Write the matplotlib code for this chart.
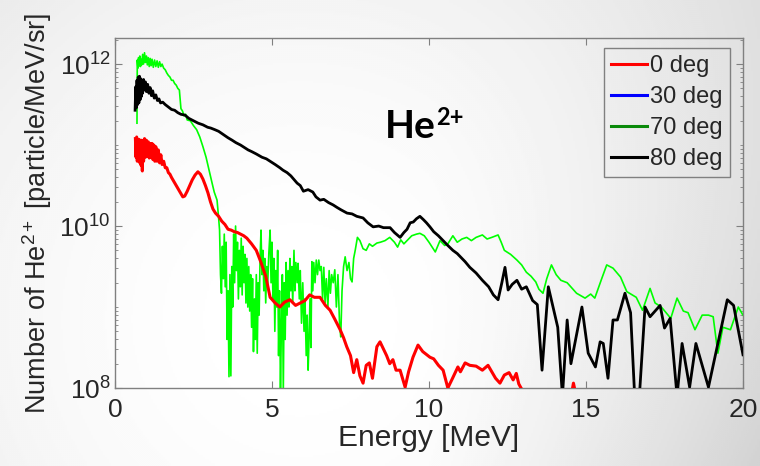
import numpy as np
import matplotlib
matplotlib.use("Agg")
import matplotlib.pyplot as plt
from matplotlib.lines import Line2D
from matplotlib.ticker import LogLocator, NullFormatter

plt.rcParams['font.family'] = ['Liberation Sans', 'DejaVu Sans']
plt.rcParams['mathtext.fontset'] = 'custom'
plt.rcParams['mathtext.rm'] = 'Liberation Sans'
plt.rcParams['mathtext.it'] = 'Liberation Sans:italic'
plt.rcParams['mathtext.bf'] = 'Liberation Sans:bold'

# --- data (energy in MeV, log10 of counts)
e_red = [0.65, 0.67, 0.69, 0.71, 0.73, 0.75, 0.77, 0.79, 0.81, 0.83, 0.85, 0.87, 0.89, 0.91,
         0.94, 0.97, 1.00, 1.03, 1.06, 1.09, 1.12, 1.15, 1.18, 1.21, 1.24, 1.27, 1.30, 1.34,
         1.38, 1.42, 1.46, 1.50, 1.55, 1.60, 1.65, 1.70, 1.75, 1.80, 1.86, 1.92, 1.98, 2.04,
         2.10, 2.16, 2.22, 2.30, 2.38, 2.46, 2.55, 2.64, 2.72, 2.80, 2.88, 2.96, 3.04, 3.12,
         3.20, 3.30, 3.40, 3.50, 3.60, 3.70, 3.80, 3.90, 4.00, 4.10, 4.20, 4.35, 4.50, 4.65,
         4.80, 4.94, 5.10, 5.25, 5.40, 5.57, 5.75, 5.90, 6.05, 6.20, 6.35, 6.53, 6.70, 6.85,
         7.00, 7.17, 7.28, 7.38, 7.50, 7.60, 7.70, 7.80, 7.90, 8.00, 8.10, 8.20, 8.34, 8.44,
         8.55, 8.65, 8.75, 8.85, 8.95, 9.08, 9.24, 9.35, 9.49, 9.65, 9.80, 10.03, 10.15, 10.30,
         10.45, 10.60, 10.75, 10.92, 11.00, 11.15, 11.30, 11.50, 11.70, 11.88, 12.00, 12.12,
         12.26, 12.40, 12.55, 12.68, 12.78, 12.86, 12.96, 13.50, 14.55, 14.60, 14.66, 15.20]
n_red = [11.08, 10.85, 11.10, 10.80, 11.05, 10.82, 11.07, 10.78, 11.04, 10.75, 11.06, 10.68,
         11.05, 10.80, 11.08, 10.85, 11.06, 10.86, 11.04, 10.84, 11.02, 10.85, 11.02, 10.82,
         11.00, 10.80, 10.98, 10.80, 10.94, 10.78, 10.88, 10.76, 10.80, 10.72, 10.72, 10.66,
         10.64, 10.60, 10.56, 10.52, 10.48, 10.44, 10.40, 10.36, 10.37, 10.43, 10.50, 10.57,
         10.63, 10.67, 10.64, 10.58, 10.50, 10.41, 10.30, 10.21, 10.16, 10.12, 10.06, 10.02,
         9.96, 9.95, 9.93, 9.92, 9.90, 9.88, 9.85, 9.78, 9.70, 9.55, 9.38, 9.12, 9.05, 9.00,
         9.06, 9.09, 9.02, 9.05, 9.08, 9.15, 9.12, 9.12, 9.02, 8.96, 8.85, 8.72, 8.62, 8.51,
         8.40, 8.19, 8.35, 8.15, 8.06, 8.28, 8.31, 8.12, 8.51, 8.57, 8.48, 8.40, 8.30, 8.35,
         8.22, 8.22, 8.01, 8.20, 8.38, 8.53, 8.45, 8.38, 8.36, 8.28, 8.22, 8.00, 8.12, 8.26,
         8.20, 8.31, 8.28, 8.27, 8.22, 8.28, 8.20, 8.12, 8.06, 8.16, 8.19, 8.10, 8.18, 8.05,
         7.98, 7.50, 7.95, 8.06, 7.95, 7.50]

e_green = [0.70, 0.71, 0.73, 0.75, 0.77, 0.79, 0.81, 0.83, 0.85, 0.88, 0.91, 0.94, 0.97, 1.00,
           1.03, 1.06, 1.09, 1.12, 1.15, 1.18, 1.22, 1.26, 1.30, 1.34, 1.38, 1.42, 1.46, 1.50,
           1.55, 1.60, 1.65, 1.70, 1.75, 1.80, 1.85, 1.90, 1.95, 2.00, 2.05, 2.10, 2.15, 2.20,
           2.25, 2.30, 2.40, 2.50, 2.60, 2.70, 2.80, 2.90, 3.00, 3.08, 3.16, 3.25,
           3.30, 3.33, 3.36, 3.39, 3.42, 3.45, 3.48, 3.51, 3.54, 3.57, 3.60, 3.63, 3.66, 3.69,
           3.72, 3.75, 3.78, 3.81, 3.84, 3.87, 3.90, 3.93, 3.96, 3.99, 4.02, 4.05, 4.08, 4.11,
           4.14, 4.17, 4.20, 4.23, 4.26, 4.29, 4.32, 4.35, 4.38, 4.41, 4.44, 4.47, 4.50, 4.53,
           4.56, 4.59, 4.62, 4.65, 4.68, 4.71, 4.74, 4.77, 4.80, 4.83, 4.86, 4.90, 4.94, 4.97,
           5.00, 5.03, 5.06, 5.09, 5.12, 5.15, 5.18, 5.21, 5.24, 5.27, 5.30, 5.33, 5.36, 5.39,
           5.42, 5.45, 5.48, 5.51, 5.54, 5.57, 5.60, 5.63, 5.66, 5.70, 5.73, 5.76, 5.80, 5.83,
           5.87, 5.90, 5.94, 5.98, 6.02, 6.05, 6.09, 6.12, 6.15, 6.18, 6.21, 6.24, 6.27, 6.30,
           6.33, 6.37, 6.41, 6.45, 6.49, 6.53, 6.57, 6.61, 6.65, 6.69, 6.73, 6.78, 6.82, 6.86,
           6.90, 6.95, 7.00, 7.05, 7.10, 7.15, 7.19, 7.23, 7.28, 7.33, 7.39, 7.45, 7.50, 7.55,
           7.60, 7.65, 7.72, 7.80,
           7.90, 8.00, 8.10, 8.20, 8.34, 8.45, 8.60, 8.75,
           8.90, 9.00, 9.10, 9.20, 9.30, 9.45, 9.60, 9.71, 9.85, 10.00, 10.20, 10.35, 10.50,
           10.60, 10.76, 10.90, 11.05, 11.20, 11.35, 11.50, 11.70, 11.85, 12.00, 12.20, 12.30,
           12.40, 12.60, 12.80, 12.95, 13.10, 13.25, 13.40, 13.50, 13.63, 13.75, 13.90, 14.05,
           14.20, 14.40, 14.70, 14.97, 15.15, 15.28, 15.50, 15.66, 15.86, 16.10, 16.30, 16.60,
           16.80, 17.04, 17.20, 17.40, 17.70, 17.90, 18.10, 18.25, 18.47, 18.70, 18.90, 19.05,
           19.20, 19.36, 19.60, 19.85, 20.00]
n_green = [11.27, 12.05, 11.95, 12.08, 11.98, 12.10, 11.97, 12.06, 11.99, 12.12, 12.00, 12.14,
           12.02, 12.10, 11.99, 12.08, 11.97, 12.07, 11.98, 12.06, 11.96, 12.05, 11.97, 12.04,
           11.96, 12.03, 11.97, 12.00, 11.95, 11.93, 11.89, 11.86, 11.84, 11.80, 11.80, 11.76,
           11.74, 11.70, 11.68, 11.45, 11.42, 11.36, 11.38, 11.31, 11.30, 11.24, 11.19, 11.10,
           10.98, 10.85, 10.68, 10.55, 10.42, 10.32,
           10.10, 9.95, 9.40, 9.17, 9.75, 9.35, 9.90, 9.25, 9.80, 8.60, 9.20, 8.14, 9.40, 8.15,
           9.50, 9.00, 9.90, 9.30, 10.00, 9.45, 9.80, 9.10, 9.70, 9.25, 9.85, 9.15, 9.75, 9.30,
           9.65, 9.05, 9.60, 9.00, 9.50, 8.95, 9.40, 8.75, 9.35, 8.45, 9.10, 8.60, 9.40, 8.43,
           9.30, 8.90, 9.60, 9.95, 9.40, 9.70, 9.20, 9.60, 9.05, 9.50, 9.25, 9.67, 9.95, 9.30,
           9.80, 9.10, 9.60, 8.70, 9.45, 9.00, 9.70, 8.40, 9.20, 7.95, 8.80, 9.40, 7.95, 9.30,
           8.60, 9.55, 8.90, 9.45, 9.00, 9.60, 9.20, 9.50, 9.05, 9.70, 9.20, 9.55, 9.30, 9.54,
           9.10, 9.45, 8.80, 9.30, 8.70, 9.10, 8.40, 8.90, 8.22, 8.60, 9.10, 8.50, 9.56, 9.20,
           9.55, 9.30, 9.58, 9.40, 9.58, 9.45, 9.50, 9.10, 9.49, 9.05, 9.35, 9.00, 9.45, 9.17,
           9.40, 9.30, 9.46, 9.00, 9.40, 8.80, 8.63, 9.20, 9.50, 9.62, 9.45, 9.55, 9.35, 9.31,
           9.60, 9.70, 9.86, 9.82,
           9.72, 9.70, 9.78, 9.75, 9.79, 9.80, 9.82, 9.86,
           9.80, 9.74, 9.83, 9.78, 9.82, 9.88, 9.90, 9.91, 9.88, 9.80, 9.68, 9.82, 9.76,
           9.78, 9.88, 9.80, 9.84, 9.86, 9.82, 9.86, 9.89, 9.84, 9.86, 9.89, 9.80,
           9.70, 9.65, 9.58, 9.52, 9.43, 9.38, 9.31, 9.22, 9.17, 9.35, 9.52, 9.40,
           9.33, 9.30, 9.17, 9.11, 9.16, 9.11, 9.35, 9.52, 9.48, 9.37, 9.19, 9.12,
           8.96, 9.23, 9.05, 9.00, 8.86, 9.11, 8.95, 8.93, 8.72, 8.90, 8.90, 8.88,
           8.43, 8.75, 8.72, 9.00, 8.90]

e_black = [0.64, 0.66, 0.68, 0.70, 0.72, 0.74, 0.76, 0.78, 0.80, 0.82, 0.84, 0.86, 0.88, 0.91,
           0.94, 0.97, 1.00, 1.04, 1.08, 1.12, 1.16, 1.20, 1.25, 1.30, 1.35, 1.40, 1.45, 1.52,
           1.60, 1.70, 1.80, 1.90, 2.00, 2.10, 2.23, 2.35, 2.50, 2.65, 2.80, 2.95, 3.05, 3.18,
           3.30, 3.45, 3.60, 3.73, 3.85, 4.00, 4.12, 4.24, 4.35, 4.50, 4.68, 4.82, 4.94, 5.10,
           5.25, 5.35, 5.48, 5.60, 5.80, 5.90, 6.00, 6.15, 6.30, 6.40, 6.53, 6.65, 6.80, 6.95,
           7.07, 7.20, 7.39, 7.55, 7.70, 7.90, 8.05, 8.22, 8.40, 8.55, 8.76, 8.90, 9.08, 9.20,
           9.30, 9.40, 9.50, 9.60, 9.71, 9.82, 9.92, 10.03, 10.15, 10.30, 10.45, 10.60, 10.76,
           10.90, 11.00, 11.15, 11.30, 11.50, 11.70, 11.90, 12.05, 12.20, 12.32, 12.42, 12.52,
           12.65, 12.80, 12.95, 13.10, 13.30, 13.45, 13.60, 13.80, 14.10, 14.25, 14.40, 14.52,
           14.87, 15.07, 15.30, 15.45, 15.55, 15.70, 15.86, 16.00, 16.24, 16.42, 16.55, 16.70,
           16.88, 17.04, 17.36, 17.50, 17.68, 17.90, 18.06, 18.30, 18.50, 18.90, 19.50, 19.70,
           20.00]
n_black = [11.43, 11.72, 11.46, 11.80, 11.50, 11.84, 11.52, 11.85, 11.56, 11.82, 11.60, 11.80,
           11.64, 11.81, 11.68, 11.78, 11.66, 11.75, 11.64, 11.71, 11.61, 11.67, 11.58, 11.62,
           11.55, 11.57, 11.52, 11.53, 11.50, 11.47, 11.44, 11.43, 11.40, 11.38, 11.37, 11.33,
           11.30, 11.27, 11.25, 11.22, 11.21, 11.19, 11.17, 11.13, 11.09, 11.06, 11.03, 11.00,
           10.97, 10.94, 10.92, 10.89, 10.85, 10.83, 10.80, 10.76, 10.72, 10.69, 10.66, 10.62,
           10.53, 10.50, 10.43, 10.45, 10.42, 10.36, 10.32, 10.33, 10.29, 10.26, 10.23, 10.20,
           10.16, 10.15, 10.12, 10.10, 10.04, 9.99, 10.00, 9.98, 9.98, 9.92, 9.86, 9.92, 9.96,
           10.04, 10.05, 10.09, 10.12, 10.08, 10.04, 9.99, 9.93, 9.88, 9.82, 9.76, 9.70, 9.66,
           9.62, 9.56, 9.49, 9.42, 9.33, 9.25, 9.15, 9.09, 9.30, 9.49, 9.21, 9.28, 9.33, 9.22,
           9.25, 9.08, 9.03, 8.22, 9.25, 8.75, 7.90, 8.84, 8.30, 9.00, 8.43, 8.26, 8.57, 8.55,
           8.12, 8.84, 8.84, 9.17, 8.93, 7.90, 7.90, 9.00, 8.88, 9.02, 8.74, 8.86, 7.90, 8.55,
           8.01, 8.55, 8.01, 9.09, 9.02, 8.41]

labels = ['0 deg', '30 deg', '70 deg', '80 deg']
legend_colors = ['#ff0000', '#0000ff', '#0a8a0a', '#000000']
x_ticks = [0, 5, 10, 15, 20]

# --- figure with soft grey vignette background
fig = plt.figure(figsize=(7.6, 4.66), dpi=100)
bg = fig.add_axes([0, 0, 1, 1], zorder=-10)
gx, gy = np.meshgrid(np.linspace(0, 760, 380), np.linspace(0, 466, 233))
r = np.hypot(gx - 300, gy - 320) / 520
shade = 1 - 0.11 * r**2 - 0.08 * np.clip((gx - 430) / 330, 0, 1) * (gy / 466)
bg.imshow(shade, cmap='gray', vmin=0, vmax=1, extent=[0, 1, 0, 1],
          aspect='auto', origin='upper', interpolation='bilinear')
bg.axis('off')

ax = fig.add_axes([115 / 760, 78 / 466, 628 / 760, 350 / 466])
ax.set_facecolor('none')

ax.plot(e_green, 10 ** np.array(n_green), color='#00ff00', lw=1.2, zorder=2)
ax.plot(e_red, 10 ** np.array(n_red), color='#ff0000', lw=2.2, zorder=3)
ax.plot(e_black, 10 ** np.array(n_black), color='#000000', lw=2.0, zorder=4)

ax.set_yscale('log')
ax.set_xlim(0, 20)
ax.set_ylim(1e8, 2.1e12)
ax.set_xticks(x_ticks)
ax.yaxis.set_major_locator(LogLocator(base=100))
ax.yaxis.set_minor_locator(LogLocator(base=10, subs=np.arange(1, 10), numticks=50))
ax.yaxis.set_minor_formatter(NullFormatter())

txt_col = '#262626'
ax.tick_params(which='both', direction='in', top=True, right=True,
               colors='#808080', labelcolor=txt_col, labelsize=19)
ax.tick_params(which='major', length=5, width=0.8)
ax.tick_params(which='minor', length=2.5, width=0.6)
ax.tick_params(axis='x', pad=7)
ax.tick_params(axis='y', pad=3)
for s in ax.spines.values():
    s.set_color('#808080')
    s.set_linewidth(1.0)

ax.set_xlabel('Energy [MeV]', fontsize=21.5, color=txt_col, labelpad=2)
ax.set_ylabel(r'Number of He$^{\mathrm{2+}}$ [particle/MeV/sr]', fontsize=19.5,
              color=txt_col, labelpad=4)

ax.text(0.43, 0.714, 'He', transform=ax.transAxes, fontsize=28, fontweight='bold',
        family='Lato', va='baseline', ha='left')
ax.text(0.512, 0.752, '2+', transform=ax.transAxes, fontsize=17, fontweight='bold',
        family='Lato', va='baseline', ha='left')

handles = [Line2D([], [], color=c, lw=2.2) for c in legend_colors]
leg = ax.legend(handles, labels, loc='upper right', bbox_to_anchor=(0.979, 0.971),
                borderaxespad=0, fontsize=17, handlelength=1.55, handletextpad=0.12,
                labelspacing=0.38, borderpad=0.3, fancybox=False, framealpha=1,
                facecolor='none', edgecolor='#808080')
leg.get_frame().set_linewidth(1.0)
for t in leg.get_texts():
    t.set_color(txt_col)

fig.savefig('out.png', dpi=100)
